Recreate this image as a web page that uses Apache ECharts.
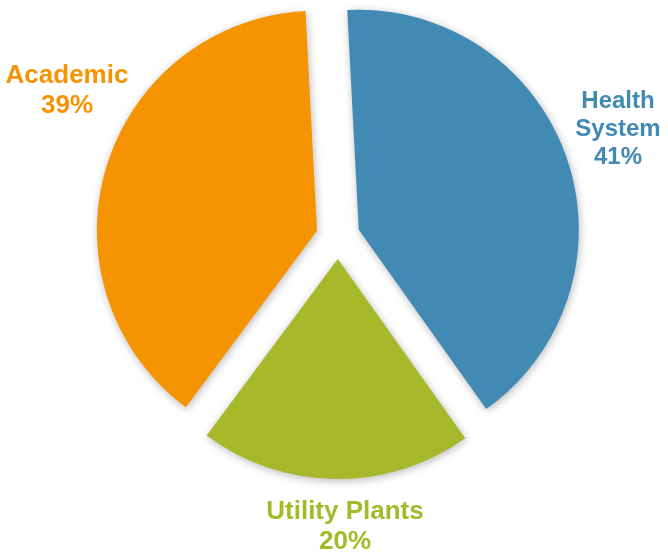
<!DOCTYPE html>
<html>
<head>
<meta charset="utf-8">
<script src="https://cdn.jsdelivr.net/npm/echarts@6/dist/echarts.min.js"></script>
<style>
  html, body { margin: 0; padding: 0; background: #ffffff; }
  #chart { width: 668px; height: 553px; }
</style>
</head>
<body>
<div id="chart"></div>
<script>
// Share of the total by segment
const categories = ['Health System', 'Utility Plants', 'Academic'];
const shares = [41, 20, 39];
const labelNames = ['Health\nSystem', 'Utility Plants', 'Academic'];
const colors = ['#418AB3', '#A6B92B', '#F59300'];

// Caption placement and type size for each segment
const labelAnchors = [[618, 129], [345, 527], [67, 91]];
const labelSizes = [24, 26, 26];
const labelLeading = [28, 30, 30];

const chart = echarts.init(document.getElementById('chart'), null, { renderer: 'canvas' });

const captions = categories.map((name, i) => ({
  type: 'text',
  x: labelAnchors[i][0],
  y: labelAnchors[i][1],
  style: {
    text: labelNames[i] + '\n' + shares[i] + '%',
    fill: colors[i],
    font: 'bold ' + labelSizes[i] + 'px "Liberation Sans", Arial, sans-serif',
    lineHeight: labelLeading[i],
    align: 'center',
    verticalAlign: 'middle'
  }
}));

chart.setOption({
  animation: false,
  graphic: captions,
  series: [{
    type: 'pie',
    center: [338, 237],
    radius: [0, 220],
    startAngle: 93,
    clockwise: true,
    selectedMode: 'multiple',
    selectedOffset: 22,
    emphasis: { disabled: true },
    itemStyle: {
      shadowBlur: 8,
      shadowColor: 'rgba(0,0,0,0.28)',
      shadowOffsetX: 1,
      shadowOffsetY: 2
    },
    label: { show: false },
    labelLine: { show: false },
    data: categories.map((name, i) => ({
      name,
      value: shares[i],
      selected: true,
      itemStyle: { color: colors[i] }
    }))
  }]
});
</script>
</body>
</html>
